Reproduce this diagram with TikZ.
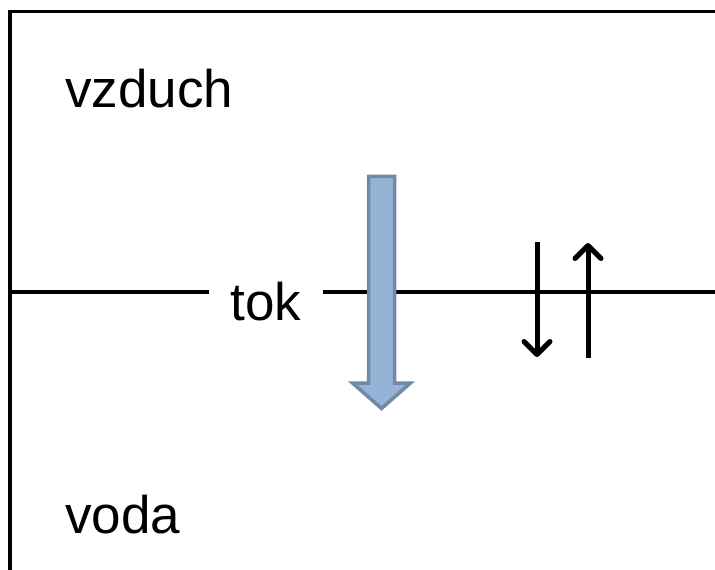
\documentclass[tikz,border=0pt]{standalone}
\usepackage{fontspec}
\setmainfont{Liberation Sans}
\usetikzlibrary{arrows.meta}
\definecolor{flowfill}{RGB}{149,179,215}
\definecolor{flowline}{RGB}{110,138,165}
\begin{document}
\begin{tikzpicture}[x=1bp,y=-1bp,
  phase/.style={font=\fontsize{53bp}{60bp}\selectfont, inner sep=0pt, anchor=base west},
  rule/.style={line width=3.2bp, black},
  flux/.style={line width=5bp, black,
    -{Straight Barb[length=13bp,width=26bp,line width=5bp,line cap=round,line join=round]}},
  bigflow/.style={line width=3.5bp, draw=flowline, fill=flowfill, line join=miter}
]
\useasboundingbox (0,0) rectangle (715,570);

% frame: top and left borders
\draw[rule, line width=3.8bp] (10,570) -- (10,11.5) -- (715,11.5);

% phase labels
\node[phase] (air) at (65,108) {vzduch};
\node[phase] (water) at (65,533) {voda};

% interface line, interrupted by its label
\coordinate (ifL) at (10,292);
\coordinate (ifR) at (715,292);
\node[font=\fontsize{53bp}{60bp}\selectfont, inner xsep=21bp, inner ysep=0pt, anchor=base] (tok) at (266,320) {tok};
\draw[rule] (ifL) -- (ifL -| tok.west);
\draw[rule] (ifR -| tok.east) -- (ifR);

% wide flux arrow
\draw[bigflow] (368.5,176.5) -- (394.5,176.5) -- (394.5,383) -- (410.5,383)
  -- (381.5,408.5) -- (352.5,383) -- (368.5,383) -- cycle;

% exchange arrows
\coordinate (dnA) at (537,242);
\coordinate (dnB) at (537,357);
\coordinate (upA) at (588,358);
\coordinate (upB) at (588,243);
\draw[flux] (dnA) -- (dnB);
\draw[flux] (upA) -- (upB);
\end{tikzpicture}
\end{document}
